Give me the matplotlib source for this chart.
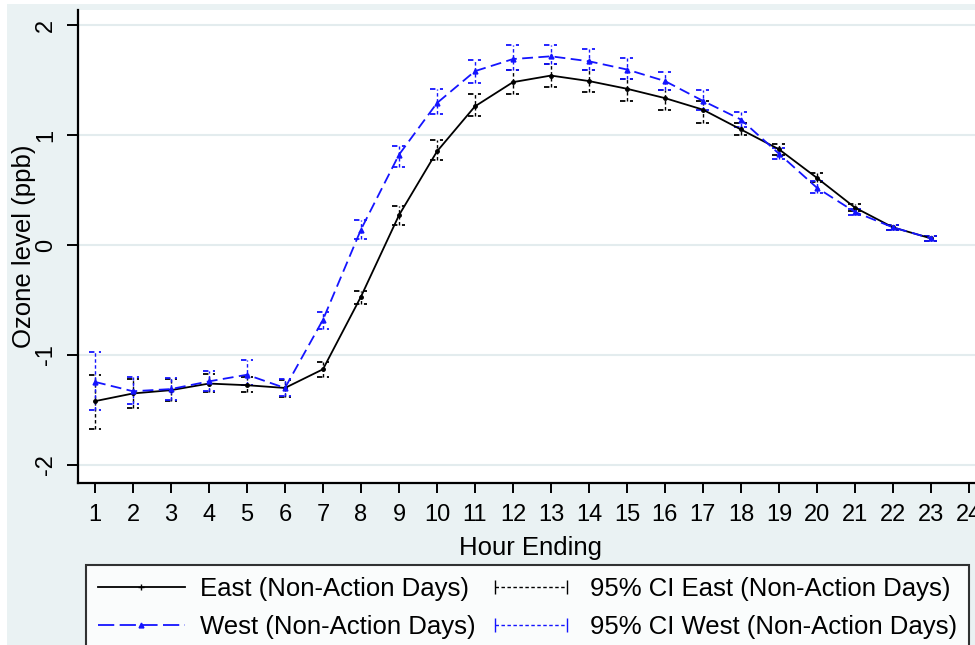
import matplotlib
matplotlib.use("Agg")

import matplotlib.pyplot as plt
from matplotlib.lines import Line2D
from matplotlib.patches import Rectangle
from matplotlib.legend_handler import HandlerLine2D

plt.rcParams["font.family"] = ["Liberation Sans", "DejaVu Sans"]
plt.rcParams["axes.unicode_minus"] = False

# ---------------------------------------------------------------------------
# Data
# ---------------------------------------------------------------------------
hours = list(range(1, 24))
x_ticks = list(range(1, 25))
y_ticks = [-2, -1, 0, 1, 2]

east = [-1.42, -1.35, -1.32, -1.26, -1.275, -1.30, -1.13, -0.47, 0.27, 0.85, 1.26, 1.48,
        1.54, 1.49, 1.42, 1.335, 1.23, 1.05, 0.87, 0.61, 0.34, 0.16, 0.06]
east_lo = [-1.67, -1.48, -1.42, -1.34, -1.34, -1.38, -1.20, -0.54, 0.18, 0.77, 1.17, 1.37,
           1.435, 1.39, 1.31, 1.23, 1.11, 1.00, 0.82, 0.57, 0.31, 0.14, 0.04]
east_hi = [-1.18, -1.22, -1.22, -1.17, -1.20, -1.23, -1.06, -0.42, 0.35, 0.95, 1.37, 1.59,
           1.645, 1.59, 1.51, 1.41, 1.31, 1.11, 0.92, 0.65, 0.37, 0.18, 0.08]

west = [-1.245, -1.33, -1.31, -1.24, -1.18, -1.30, -0.68, 0.14, 0.82, 1.29, 1.58, 1.69,
        1.715, 1.67, 1.595, 1.49, 1.31, 1.14, 0.83, 0.52, 0.30, 0.16, 0.06]
west_lo = [-1.50, -1.45, -1.41, -1.33, -1.27, -1.37, -0.76, 0.055, 0.71, 1.19, 1.47, 1.59,
           1.645, 1.59, 1.51, 1.41, 1.23, 1.07, 0.78, 0.47, 0.27, 0.14, 0.04]
west_hi = [-0.97, -1.20, -1.21, -1.15, -1.05, -1.22, -0.61, 0.23, 0.90, 1.42, 1.68, 1.82,
           1.82, 1.785, 1.70, 1.57, 1.41, 1.21, 0.88, 0.58, 0.33, 0.18, 0.08]

labels = ["East (Non-Action Days)", "95% CI East (Non-Action Days)",
          "West (Non-Action Days)", "95% CI West (Non-Action Days)"]

BG = "#eaf2f3"
GRID = "#e3ecee"
BLUE = "#1414ff"
FS_TICK = 17
FS_TITLE = 18.5
FS_LEG = 18.5

W, H = 975, 645
fig = plt.figure(figsize=(W / 100, H / 100), dpi=100, facecolor="white")
fig.patches.append(Rectangle((7 / W, 0), 1, 1 - 4 / H, transform=fig.transFigure,
                             facecolor=BG, edgecolor="none", zorder=-10))

# plot region in pixels: left 78, right 986, top 10, bottom 483
ax = fig.add_axes([78 / W, 1 - 483 / H, (986 - 78) / W, (483 - 10) / H])
ax.set_facecolor("white")
ax.set_xlim(0.553, 24.45)
ax.set_ylim(-2.164, 2.136)

for y in y_ticks:
    ax.axhline(y, color=GRID, lw=1.5, zorder=0)


def draw_ci(lo, hi, color):
    cap = 0.17
    ax.vlines(hours, lo, hi, colors=color, lw=1.0, linestyles=(0, (2.5, 1.8)), zorder=2)
    xs0 = [h - cap for h in hours]
    xs1 = [h + cap for h in hours]
    ax.hlines(lo, xs0, xs1, colors=color, lw=1.3, linestyles=(0, (3, 2.5)), zorder=2)
    ax.hlines(hi, xs0, xs1, colors=color, lw=1.3, linestyles=(0, (3, 2.5)), zorder=2)


draw_ci(east_lo, east_hi, "black")
draw_ci(west_lo, west_hi, BLUE)

ax.plot(hours, east, color="black", lw=1.3, marker="o", ms=2.5, zorder=3)
ax.plot(hours, west, color=BLUE, lw=1.3, ls=(0, (6, 3)), marker="^", ms=3.5, zorder=4)

for side in ["top", "right"]:
    ax.spines[side].set_visible(False)
for side in ["left", "bottom"]:
    ax.spines[side].set_linewidth(1.6)

ax.set_xticks(x_ticks)
ax.set_yticks(y_ticks)
ax.tick_params(axis="x", direction="out", length=7, width=1.4, pad=8, labelsize=FS_TICK)
ax.tick_params(axis="y", direction="out", length=8, width=1.4, pad=7, labelsize=FS_TICK,
               labelrotation=90)
for lab in ax.get_yticklabels():
    lab.set_verticalalignment("center")

ax.set_xlabel("Hour Ending", fontsize=FS_TITLE)
ax.xaxis.set_label_coords(0.498, -0.113)
ax.set_ylabel("Ozone level (ppb)", fontsize=FS_TITLE)
ax.yaxis.set_label_coords(-0.046, 0.5)

# legend proxies
h_east = Line2D([], [], color="black", lw=1.3, marker="+", ms=4)
h_west = Line2D([], [], color=BLUE, lw=1.3, ls=(0, (9, 3)), marker="^", ms=3.5)
h_ci_e = Line2D([], [], color="black", lw=1.0, ls=(0, (2.5, 1.8)), marker="|", ms=10)
h_ci_w = Line2D([], [], color=BLUE, lw=1.0, ls=(0, (2.5, 1.8)), marker="|", ms=10)

leg = fig.legend(
    [h_east, h_west, h_ci_e, h_ci_w],
    [labels[0], labels[2], labels[1], labels[3]],
    ncol=2, loc="upper left", bbox_to_anchor=(86 / W, 1 - 565 / H),
    frameon=True, fancybox=False, edgecolor="black", facecolor="white",
    fontsize=FS_LEG, handlelength=3.4, handletextpad=0.6, columnspacing=0.45,
    labelspacing=0.55, borderpad=0.45, borderaxespad=0,
    handler_map={h_east: HandlerLine2D(numpoints=1), h_west: HandlerLine2D(numpoints=1),
                 h_ci_e: HandlerLine2D(numpoints=2), h_ci_w: HandlerLine2D(numpoints=2)},
)
leg.get_frame().set_linewidth(1.5)

fig.savefig("out.png", dpi=100, facecolor="white")
